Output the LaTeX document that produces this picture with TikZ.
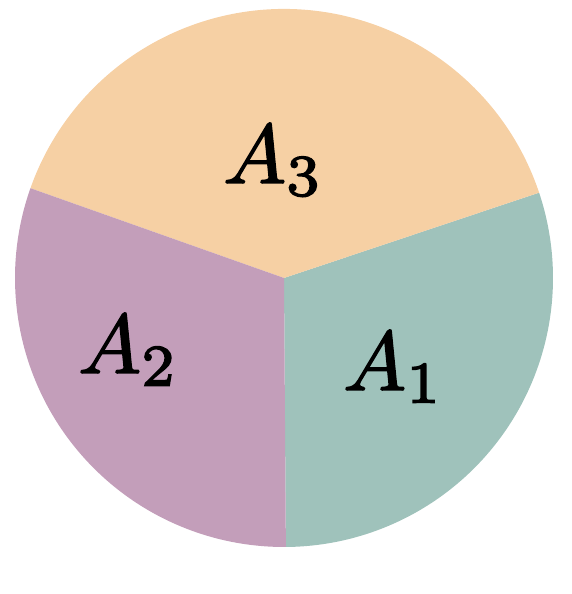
\documentclass[tikz,border=0pt]{standalone}
\definecolor{cA}{HTML}{9FC2BB}
\definecolor{cB}{HTML}{C39EBA}
\definecolor{cC}{HTML}{F6D0A4}
\newcommand{\fakebold}[1]{\special{pdf:literal direct 2 Tr 0.18 w}#1\special{pdf:literal direct 0 Tr 0 w}}
\newcommand{\biglbl}[1]{\scalebox{8.4}{\fakebold{$#1$}}}
\begin{document}
\begin{tikzpicture}[x=1pt,y=1pt,
  lbl/.style={anchor=base west,inner sep=0pt}]
\useasboundingbox (0,0) rectangle (572,594);
\coordinate (c) at (284,316);
\def\r{269}
\fill[cA] (c) -- ++(270.4:\r) arc[start angle=270.4,end angle=378.5,radius=\r] -- cycle;
\fill[cC] (c) -- ++(18.5:\r) arc[start angle=18.5,end angle=160.5,radius=\r] -- cycle;
\fill[cB] (c) -- ++(160.5:\r) arc[start angle=160.5,end angle=270.4,radius=\r] -- cycle;
\node[lbl] (a3) at (223,411) {\biglbl{A_3}};
\node[lbl] (a2) at (78,221) {\biglbl{A_2}};
\node[lbl] (a1) at (343,204) {\biglbl{A_1}};
\end{tikzpicture}
\end{document}
